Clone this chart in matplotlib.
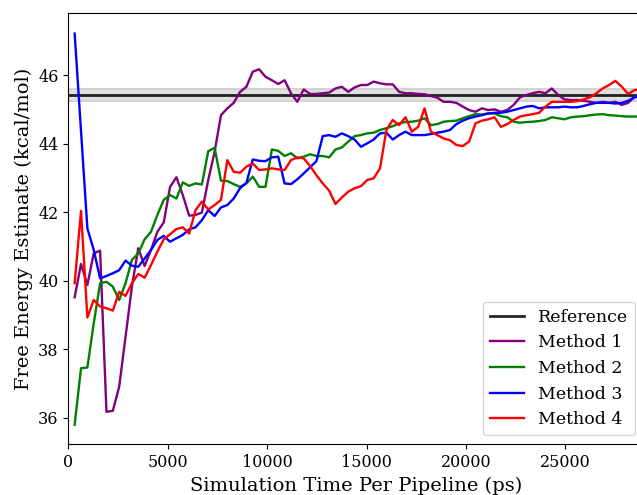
import matplotlib
matplotlib.use("Agg")
import matplotlib.pyplot as plt
import numpy as np

plt.rcParams['font.family'] = ['DejaVu Serif']

step = 320
ref_value = 45.42
ref_err = 0.18

method1 = [39.52, 40.49, 39.88, 40.80, 40.88, 36.18, 36.21, 36.91, 38.37, 39.83,
           40.95, 40.43, 40.90, 41.43, 41.70, 42.74, 43.02, 42.50, 41.90, 41.92,
           41.99, 42.94, 43.76, 44.83, 45.03, 45.19, 45.51, 45.66, 46.10, 46.17,
           45.95, 45.85, 45.74, 45.85, 45.47, 45.22, 45.58, 45.45, 45.45, 45.47,
           45.49, 45.61, 45.66, 45.51, 45.64, 45.71, 45.71, 45.81, 45.76, 45.73,
           45.73, 45.51, 45.47, 45.47, 45.45, 45.44, 45.39, 45.34, 45.22, 45.22,
           45.19, 45.08, 44.98, 44.93, 45.03, 44.98, 45.00, 44.93, 44.98, 45.13,
           45.35, 45.42, 45.47, 45.51, 45.47, 45.61, 45.42, 45.29, 45.27, 45.27,
           45.25, 45.22, 45.19, 45.22, 45.19, 45.22, 45.13, 45.19, 45.37, 45.40]
method2 = [35.80, 37.45, 37.47, 38.76, 39.93, 39.97, 39.83, 39.44, 39.93, 40.61,
           40.80, 41.21, 41.43, 41.92, 42.36, 42.50, 42.40, 42.87, 42.77, 42.84,
           42.81, 43.78, 43.88, 42.92, 42.91, 42.82, 42.74, 42.84, 43.04, 42.74,
           42.74, 43.83, 43.79, 43.64, 43.72, 43.57, 43.62, 43.69, 43.64, 43.64,
           43.60, 43.83, 43.89, 44.06, 44.22, 44.25, 44.30, 44.32, 44.40, 44.45,
           44.51, 44.59, 44.63, 44.64, 44.67, 44.74, 44.54, 44.57, 44.64, 44.66,
           44.67, 44.74, 44.80, 44.86, 44.85, 44.88, 44.88, 44.80, 44.77, 44.64,
           44.61, 44.63, 44.64, 44.66, 44.69, 44.77, 44.74, 44.71, 44.77, 44.79,
           44.80, 44.83, 44.85, 44.86, 44.83, 44.82, 44.80, 44.79, 44.79, 44.79]
method3 = [47.21, 44.37, 41.53, 40.90, 40.07, 40.14, 40.22, 40.31, 40.59, 40.44,
           40.41, 40.65, 40.90, 41.19, 41.31, 41.14, 41.24, 41.34, 41.50, 41.56,
           41.77, 42.06, 41.89, 42.14, 42.21, 42.40, 42.70, 42.86, 43.54, 43.50,
           43.49, 43.60, 43.62, 42.84, 42.82, 42.96, 43.13, 43.31, 43.49, 44.22,
           44.25, 44.20, 44.30, 44.22, 44.12, 43.91, 44.01, 44.12, 44.30, 44.32,
           44.12, 44.25, 44.35, 44.25, 44.25, 44.25, 44.28, 44.32, 44.35, 44.40,
           44.57, 44.67, 44.74, 44.79, 44.83, 44.88, 44.90, 44.90, 44.93, 44.98,
           45.03, 45.08, 45.10, 45.03, 45.06, 45.06, 45.06, 45.08, 45.06, 45.06,
           45.10, 45.15, 45.19, 45.19, 45.19, 45.17, 45.19, 45.25, 45.35, 45.40]
method4 = [39.93, 42.04, 38.93, 39.44, 39.25, 39.20, 39.13, 39.68, 39.56, 39.93,
           40.20, 40.09, 40.46, 40.85, 41.21, 41.36, 41.51, 41.56, 41.38, 42.06,
           42.31, 42.08, 42.21, 42.36, 43.52, 43.18, 43.15, 43.33, 43.42, 43.23,
           43.25, 43.28, 43.25, 43.23, 43.52, 43.60, 43.57, 43.35, 43.08, 42.84,
           42.63, 42.24, 42.43, 42.60, 42.70, 42.76, 42.94, 42.99, 43.28, 44.40,
           44.69, 44.54, 44.77, 44.35, 44.49, 45.03, 44.35, 44.25, 44.15, 44.10,
           43.96, 43.93, 44.06, 44.59, 44.67, 44.71, 44.77, 44.49, 44.57, 44.69,
           44.79, 44.83, 44.86, 44.90, 45.08, 45.22, 45.22, 45.22, 45.22, 45.24,
           45.29, 45.35, 45.47, 45.61, 45.71, 45.83, 45.66, 45.45, 45.56, 45.60]

series = [("Method 1", method1, "purple"),
          ("Method 2", method2, "green"),
          ("Method 3", method3, "blue"),
          ("Method 4", method4, "red")]

fig = plt.figure(figsize=(6.37, 4.95), dpi=100)
ax = fig.add_axes([0.1072, 0.1030, 0.9038, 0.8707])

xmax = 28958
ax.fill_between([0, xmax], ref_value - ref_err, ref_value + ref_err,
                color="gray", alpha=0.25, lw=0)
ax.axhline(ref_value - ref_err, color="lightgray", lw=1.5)
ax.axhline(ref_value + ref_err, color="lightgray", lw=1.5)
ax.axhline(ref_value, color="black", lw=2, alpha=0.85, label="Reference")

for name, vals, col in series:
    x = step * np.arange(1, len(vals) + 1)
    ax.plot(x, vals, color=col, lw=1.7, label=name)

ax.set_xlim(0, xmax)
ax.set_ylim(35.24, 47.81)
ax.set_xticks([0, 5000, 10000, 15000, 20000, 25000])
ax.set_yticks([36, 38, 40, 42, 44, 46])
ax.tick_params(labelsize=11.5)
ax.set_xlabel("Simulation Time Per Pipeline (ps)", fontsize=14)
ax.set_ylabel("Free Energy Estimate (kcal/mol)", fontsize=14)
ax.legend(loc="lower right", fontsize=12.5)

fig.savefig("out.png", dpi=100)
